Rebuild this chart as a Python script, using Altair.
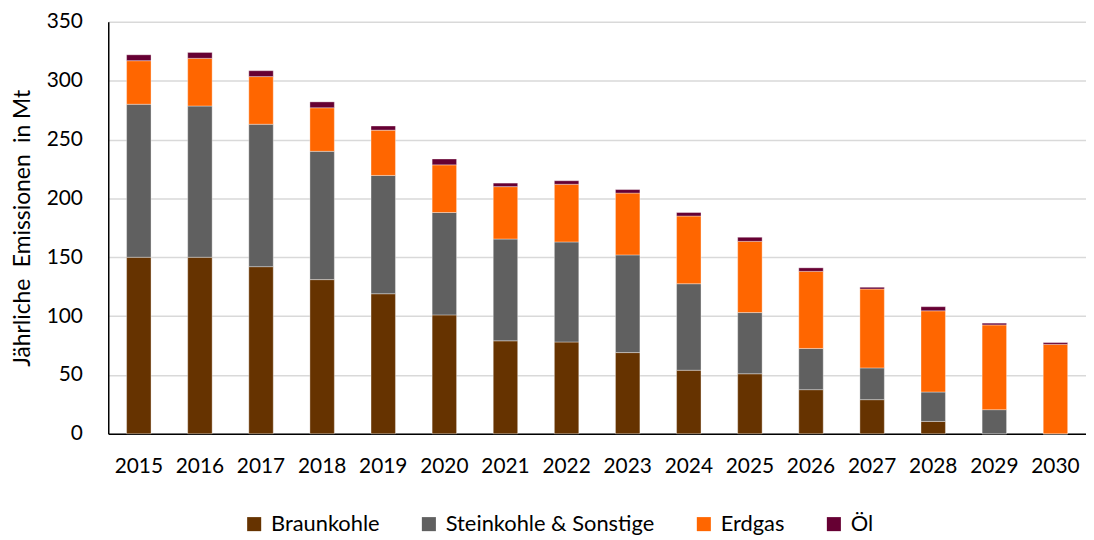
import altair as alt
import pandas as pd

years = [str(y) for y in range(2015, 2031)]
braunkohle = [150, 150, 142, 131, 119, 101, 79, 78, 69, 54, 51, 37.5, 29, 10.5, 0, 0]
steinkohle = [130, 128.5, 121, 109, 100.5, 87, 86.5, 85, 83, 73.5, 52, 35, 27, 25, 20.5, 0]
erdgas = [37, 40.5, 40.5, 37, 38.5, 40.5, 44.5, 49, 52.5, 57.5, 60.5, 65.5, 67, 69, 72, 76]
oel = [5, 5, 5, 5, 3.5, 5, 3, 3, 3, 3, 3.5, 3, 1.5, 3.5, 1.5, 1.5]

sources = ["Braunkohle", "Steinkohle & Sonstige", "Erdgas", "Öl"]
colors = ["#663300", "#606060", "#FF6600", "#660033"]
series = [braunkohle, steinkohle, erdgas, oel]

rows = []
for si, (name, vals) in enumerate(zip(sources, series)):
    for y, v in zip(years, vals):
        rows.append({"Jahr": y, "Quelle": name, "Wert": v, "order": si})
df = pd.DataFrame(rows)

FONT = "Lato"

chart = alt.Chart(df).mark_bar(stroke="#ffffff", strokeWidth=0.6, strokeOpacity=0.6).encode(
    x=alt.X("Jahr:N", sort=years,
            scale=alt.Scale(paddingInner=0.6, paddingOuter=0.3),
            axis=alt.Axis(title=None, labelAngle=0, labelFontSize=21, labelFont=FONT,
                          labelColor="#000000", labelPadding=22, ticks=False,
                          domainColor="#000000", domainWidth=1.5, grid=False)),
    y=alt.Y("Wert:Q", stack="zero",
            scale=alt.Scale(domain=[0, 350], nice=False),
            axis=alt.Axis(title="Jährliche\u2002Emissionen\u2002in Mt", values=list(range(0, 351, 50)),
                          titleFontSize=23, titleFont=FONT, titleFontWeight="normal",
                          titleColor="#000000", titlePadding=12,
                          labelFontSize=21, labelFont=FONT, labelColor="#000000",
                          labelPadding=26, ticks=False, domainColor="#000000",
                          domainWidth=1.5, gridColor="#d9d9d9", gridWidth=1.5)),
    color=alt.Color("Quelle:N", sort=sources,
                    scale=alt.Scale(domain=sources, range=colors),
                    legend=alt.Legend(title=None, orient="none", direction="horizontal",
                                      legendX=136, legendY=495, symbolType="square",
                                      symbolSize=200, symbolStrokeWidth=0,
                                      labelFontSize=22, labelFont=FONT, labelColor="#000000",
                                      labelLimit=0, columnPadding=38, labelOffset=6)),
    order=alt.Order("order:Q", sort="ascending"),
).properties(
    width=985, height=415,
    autosize=alt.AutoSizeParams(type="none"),
    padding={"left": 101, "top": 12, "right": 0, "bottom": 100},
).configure_view(stroke=None)

chart.save("out.html", embed_options={"renderer": "svg", "actions": False})
